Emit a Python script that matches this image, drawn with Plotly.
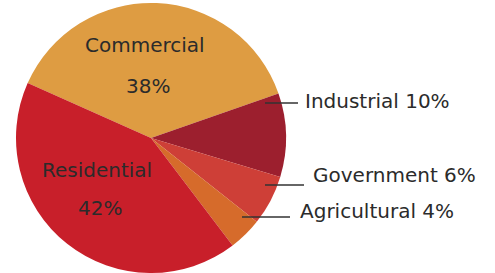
import plotly.graph_objects as go

labels = ["Commercial", "Industrial", "Government", "Agricultural", "Residential"]
values = [38, 10, 6, 4, 42]
colors = ["#DE9C42", "#9C1F2E", "#CE3F37", "#D66B2B", "#C81F2A"]

W, H = 495, 273
MT = 3
PH = H - MT
fig = go.Figure()
fig.add_trace(go.Pie(
    labels=labels, values=values, sort=False, direction="clockwise",
    rotation=-66, textinfo="none", hoverinfo="label+percent",
    marker=dict(colors=colors, line=dict(width=0)),
    domain=dict(x=[16 / W, 286 / W], y=[0, 1]),
    showlegend=False,
))

font = dict(family="DejaVu Sans", size=20, color="#2b2b2b")

def px(x, y):
    return x / W, 1 - (y - MT) / PH

annos = []
# inside labels
for (lab, pct, xl, yl, xp, yp) in [
    (labels[0], values[0], 145, 45, 148, 86),
    (labels[4], values[4], 97, 170, 100, 208),
]:
    x, y = px(xl, yl)
    annos.append(dict(x=x, y=y, text=lab, showarrow=False, xref="paper", yref="paper",
                      xanchor="center", yanchor="middle", font=font))
    x, y = px(xp, yp)
    annos.append(dict(x=x, y=y, text=f"{pct}%", showarrow=False, xref="paper", yref="paper",
                      xanchor="center", yanchor="middle", font=font))

# outside labels with leader lines
outside = [
    (1, 303, 101, 265, 298, 103),
    (2, 311, 175, 265, 304, 185),
    (3, 298, 211, 242, 290, 217),
]
shapes = []
for (i, xt, yt, x0, x1, yl) in outside:
    x, y = px(xt, yt)
    annos.append(dict(x=x, y=y, text=f"{labels[i]} {values[i]}%", showarrow=False,
                      xref="paper", yref="paper", xanchor="left", yanchor="middle", font=font))
    ax0, ay = px(x0, yl)
    ax1, _ = px(x1, yl)
    shapes.append(dict(type="line", xref="paper", yref="paper", x0=ax0, x1=ax1, y0=ay, y1=ay,
                       line=dict(color="#333333", width=1.5)))

fig.update_layout(
    width=W, height=H, margin=dict(l=0, r=0, t=MT, b=0),
    paper_bgcolor="white", plot_bgcolor="white",
    annotations=annos, shapes=shapes,
)
fig.write_html("out.html", config={"displayModeBar": False},
               post_script="document.body.style.margin='0';")
